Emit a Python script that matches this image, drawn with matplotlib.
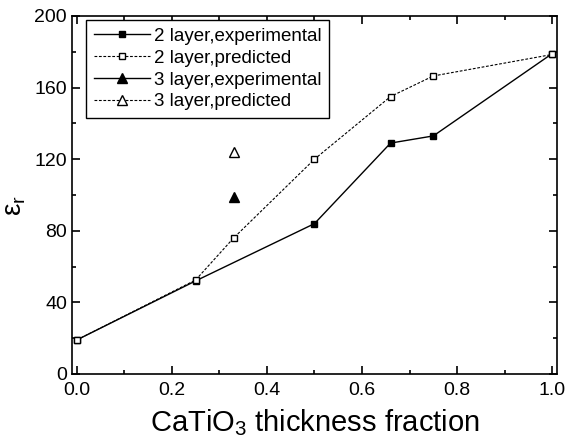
import matplotlib
matplotlib.use("Agg")
import matplotlib.pyplot as plt
from matplotlib.ticker import MultipleLocator

plt.rcParams['font.family'] = ['Liberation Sans', 'DejaVu Sans']
plt.rcParams['mathtext.fontset'] = 'custom'
plt.rcParams['mathtext.rm'] = 'Liberation Sans'

# data
x2_exp = [0.0, 0.25, 0.5, 0.66, 0.75, 1.0]
y2_exp = [19, 52, 84, 129, 133, 179]
x2_pred = [0.0, 0.25, 0.33, 0.5, 0.66, 0.75, 1.0]
y2_pred = [19, 52.5, 76, 120, 155, 166.5, 178.5]
x3_exp = [0.33]
y3_exp = [99]
x3_pred = [0.33]
y3_pred = [124]

fig = plt.figure(figsize=(5.65, 4.43), dpi=100)
ax = fig.add_axes([0.1274, 0.1558, 0.8584, 0.8081])

ax.plot(x2_exp, y2_exp, '-', color='black', lw=1.0, marker='s', ms=5,
        mfc='black', mec='black', label='2 layer,experimental')
ax.plot(x2_pred, y2_pred, '--', color='black', lw=0.8, dashes=(2.5, 1.5), marker='s', ms=5,
        mfc='white', mec='black', label='2 layer,predicted', zorder=3)
ax.plot(x3_exp, y3_exp, '-', color='black', lw=1.0, marker='^', ms=7,
        mfc='black', mec='black', label='3 layer,experimental')
ax.plot(x3_pred, y3_pred, '--', color='black', lw=0.8, dashes=(2.5, 1.5), marker='^', ms=7,
        mfc='white', mec='black', label='3 layer,predicted')

ax.set_xlim(-0.01, 1.01)
ax.set_ylim(0, 200)
ax.xaxis.set_major_locator(MultipleLocator(0.2))
ax.xaxis.set_minor_locator(MultipleLocator(0.1))
ax.yaxis.set_major_locator(MultipleLocator(40))
ax.yaxis.set_minor_locator(MultipleLocator(20))
ax.tick_params(which='both', direction='in', top=True, right=True, labelsize=14, width=1.2)
ax.tick_params(which='major', length=6)
ax.tick_params(which='minor', length=3)
ax.tick_params(axis='x', pad=6)
for s in ax.spines.values():
    s.set_linewidth(1.2)

ax.set_xlabel('CaTiO$_\\mathregular{3}$ thickness fraction', fontsize=21, labelpad=6)
ax.set_ylabel('ε$_\\mathregular{r}$', fontsize=20)
ax.yaxis.set_label_coords(-0.09, 0.47)

leg = ax.legend(loc='upper left', bbox_to_anchor=(0.029, 0.988), fontsize=13.5, frameon=True,
                fancybox=False, edgecolor='black', framealpha=1, handlelength=3,
                handletextpad=0.2, borderpad=0.4, labelspacing=0.25, borderaxespad=0)
leg.get_frame().set_linewidth(1.0)

fig.savefig('out.png', dpi=100)
